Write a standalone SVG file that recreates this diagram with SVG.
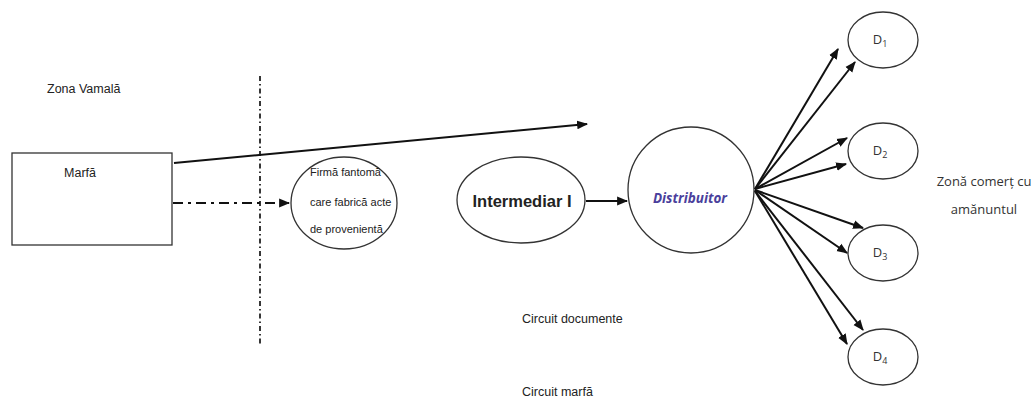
<svg xmlns="http://www.w3.org/2000/svg" width="1035" height="400" viewBox="0 0 1035 400">
<style>
.shape{fill:#fff;stroke:#333;stroke-width:1.3}
.lbl{font-family:"Liberation Sans",Arial,sans-serif;font-size:11px;fill:#222}
.big{font-size:12.5px}
.cal{font-family:"Open Sans","Liberation Sans",sans-serif;fill:#333}
.con{stroke:#111;stroke-width:2;fill:none}
</style>
<defs>
<marker id="ah" viewBox="0 0 10 10" refX="9" refY="5" markerWidth="5.5" markerHeight="5.5" orient="auto" markerUnits="strokeWidth">
<path d="M0,1 L10,5 L0,9 z" fill="#111"/>
</marker>
</defs>
<rect width="1035" height="400" fill="#fff"/>
<text class="lbl big" x="47" y="93">Zona Vamală</text>
<line x1="260" y1="76" x2="260" y2="346" stroke="#222" stroke-width="1.8" stroke-dasharray="5,3,1.5,3"/>
<g id="marfa">
<rect class="shape" x="12" y="153" width="160" height="92"/>
<text class="lbl big" x="80" y="177" text-anchor="middle">Marfă</text>
</g>
<g id="firma">
<ellipse class="shape" cx="344" cy="203" rx="53" ry="46"/>
<text class="lbl" x="310" y="176">Firmă fantomă</text>
<text class="lbl" x="310" y="206">care fabrică acte</text>
<text class="lbl" x="310" y="233">de provenientă</text>
</g>
<g id="intermediar">
<ellipse class="shape" cx="521" cy="200" rx="64" ry="43"/>
<text x="522" y="207" text-anchor="middle" font-family="'Liberation Sans',Arial,sans-serif" font-size="16.5" font-weight="bold" fill="#222">Intermediar I</text>
</g>
<g id="distribuitor">
<circle class="shape" cx="691" cy="190" r="63"/>
<text x="690" y="203" text-anchor="middle" font-family="'Open Sans','Liberation Sans',sans-serif" font-size="13.5" font-weight="bold" font-style="italic" fill="#4a3f9c">Distribuitor</text>
</g>
<g id="d1">
<ellipse class="shape" cx="883" cy="40" rx="35" ry="28"/>
<text class="cal" x="880" y="44" text-anchor="middle" font-size="13">D<tspan font-size="9" dy="3">1</tspan></text>
</g>
<g id="d2">
<ellipse class="shape" cx="883" cy="151" rx="35" ry="28"/>
<text class="cal" x="880" y="155" text-anchor="middle" font-size="13">D<tspan font-size="9" dy="3">2</tspan></text>
</g>
<g id="d3">
<ellipse class="shape" cx="883" cy="253" rx="35" ry="28"/>
<text class="cal" x="880" y="257" text-anchor="middle" font-size="13">D<tspan font-size="9" dy="3">3</tspan></text>
</g>
<g id="d4">
<ellipse class="shape" cx="883" cy="357" rx="35" ry="28"/>
<text class="cal" x="880" y="361" text-anchor="middle" font-size="13">D<tspan font-size="9" dy="3">4</tspan></text>
</g>
<g id="connectors">
<line class="con" x1="174" y1="163" x2="587" y2="124" marker-end="url(#ah)"/>
<line class="con" x1="173" y1="203" x2="289" y2="203" stroke-width="2.5" stroke-dasharray="10,5,3,5" marker-end="url(#ah)"/>
<line class="con" x1="586" y1="201" x2="627" y2="201" marker-end="url(#ah)"/>
<line class="con" x1="755" y1="189" x2="838" y2="49" marker-end="url(#ah)"/>
<line class="con" x1="755" y1="189" x2="855" y2="62" marker-end="url(#ah)"/>
<line class="con" x1="755" y1="189" x2="847" y2="138" marker-end="url(#ah)"/>
<line class="con" x1="755" y1="189" x2="846" y2="164" marker-end="url(#ah)"/>
<line class="con" x1="755" y1="190" x2="863" y2="228" marker-end="url(#ah)"/>
<line class="con" x1="755" y1="190" x2="847" y2="253" marker-end="url(#ah)"/>
<line class="con" x1="755" y1="191" x2="863" y2="330" marker-end="url(#ah)"/>
<line class="con" x1="755" y1="191" x2="847" y2="344" marker-end="url(#ah)"/>
</g>
<text class="cal" x="984" y="186" text-anchor="middle" font-size="13">Zonă comerț cu</text>
<text class="cal" x="984" y="214" text-anchor="middle" font-size="13">amănuntul</text>
<text class="lbl big" x="522" y="323">Circuit documente</text>
<text class="lbl big" x="522" y="396">Circuit marfă</text>
</svg>
